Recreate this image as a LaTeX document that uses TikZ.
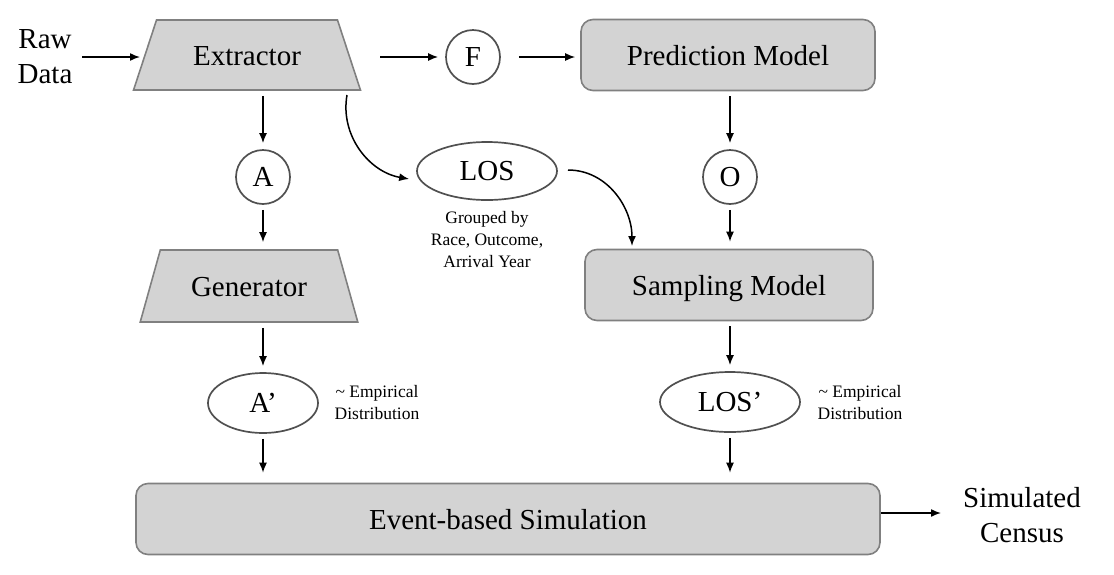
\documentclass[tikz,border=0pt]{standalone}
\usepackage{fontspec}
\setmainfont{Liberation Serif}
\usetikzlibrary{shapes.geometric,arrows.meta,positioning,calc}
\definecolor{boxfill}{HTML}{D3D3D3}
\definecolor{boxline}{HTML}{808080}
\definecolor{ringline}{HTML}{505050}
\begin{document}
\begin{tikzpicture}[x=1pt,y=-1pt,
  big/.style={font=\fontsize{29}{35}\selectfont},
  small/.style={font=\fontsize{17.5}{22}\selectfont, align=center},
  fixed/.style={text height=23pt, text depth=3pt},
  trap/.style={trapezium, trapezium stretches=true, fill=boxfill, draw=boxline, line width=1.6pt, big, fixed},
  rbox/.style={rectangle, rounded corners=12pt, fill=boxfill, draw=boxline, line width=1.6pt, big, fixed},
  ring/.style={circle, draw=ringline, line width=1.7pt, minimum size=54pt, inner sep=0pt, big},
  oval/.style={ellipse, draw=ringline, line width=1.7pt, inner sep=0pt, big},
  arr/.style={-{Latex[length=10pt,width=8pt]}, line width=1.5pt},
  plain/.style={big, align=center}
]
\useasboundingbox (0,0) rectangle (1114,574);
% nodes
\node[plain] (raw) at (45,57) {Raw\\Data};
\node[trap, minimum width=227pt, minimum height=70pt, trapezium angle=66] (ext) at (247,55) {Extractor};
\node[ring] (F) at (473,57) {F};
\node[rbox, minimum width=294pt, minimum height=71pt] (pred) at (728,55) {Prediction Model};
\node[ring] (A) at (263,177) {A};
\node[oval, minimum width=140pt, minimum height=58pt] (los) at (487,171) {LOS};
\node[small] (grp) at (487,240) {Grouped by\\Race, Outcome,\\Arrival Year};
\node[ring] (O) at (730,177) {O};
\node[trap, minimum width=218pt, minimum height=72pt, trapezium angle=67] (gen) at (249,286) {Generator};
\node[rbox, minimum width=288pt, minimum height=71pt] (samp) at (729,285) {Sampling Model};
\node[oval, minimum width=110pt, minimum height=60pt] (Ap) at (263,403) {A'};
\node[small] (empA) at (377,403) {\textasciitilde{} Empirical\\Distribution};
\node[oval, minimum width=140pt, minimum height=60pt] (losp) at (730,402) {LOS'};
\node[small] (empL) at (860,403) {\textasciitilde{} Empirical\\Distribution};
\node[rbox, minimum width=744pt, minimum height=71pt] (sim) at (508,519) {Event-based Simulation};
\node[plain] (cen) at (1022,515) {Simulated\\Census};
% free ends
\coordinate (c1s) at (347,95);
\coordinate (c2s) at (568,170);
\coordinate (c2e) at (632,246);
% connectors
\draw[arr] (82,57) -- (140,57);
\draw[arr] (380,57) -- ([xshift=-7pt]F.west);
\draw[arr] ([xshift=18pt]F.east) -- ([xshift=-5pt]pred.west |- F);
\draw[arr] ([yshift=-5pt]ext.south -| A) -- ([yshift=6pt]A.north);
\draw[arr] ([yshift=-5pt]A.south) -- ([yshift=7pt]gen.north -| A);
\draw[arr] ([yshift=-5pt]gen.south -| Ap) -- ([yshift=6pt]Ap.north);
\draw[arr] ([yshift=-5pt]Ap.south) -- ([yshift=10pt]sim.north -| Ap);
\draw[arr] ([yshift=-5pt]pred.south -| O) -- ([yshift=6pt]O.north);
\draw[arr] ([yshift=-5pt]O.south) -- ([yshift=7pt]samp.north -| O);
\draw[arr] ([yshift=-5pt]samp.south -| losp) -- ([yshift=6pt]losp.north);
\draw[arr] ([yshift=-5pt]losp.south) -- ([yshift=10pt]sim.north -| losp);
\draw[arr] (sim.east |- 0,513) -- (941,513);
\draw[arr] (c1s) to[out=-100,in=170] ([xshift=-7pt,yshift=-8pt]los.west);
\draw[arr] (c2s) to[out=0,in=90] (c2e);
\end{tikzpicture}
\end{document}
